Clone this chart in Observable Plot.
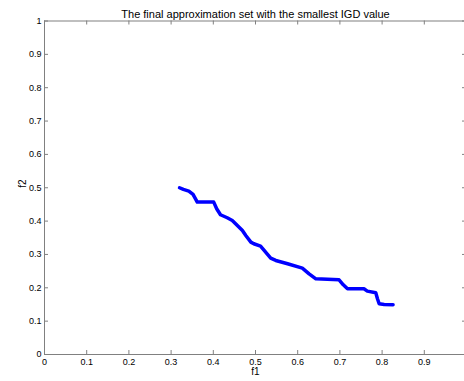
<!DOCTYPE html>
<html><head><meta charset="utf-8">
<script src="https://cdn.jsdelivr.net/npm/d3@7"></script>
<script src="https://cdn.jsdelivr.net/npm/@observablehq/plot@0.6"></script>
<style>html,body{margin:0;padding:0;background:#fff;overflow:hidden;width:464px;height:381px}</style>
</head><body><div id="chart"></div><script>
const titleText = "The final approximation set with the smallest IGD value";
const xLabel = "f1";
const yLabel = "f2";
const xTicks = [0, 0.1, 0.2, 0.3, 0.4, 0.5, 0.6, 0.7, 0.8, 0.9, 1];
const yTicks = [0, 0.1, 0.2, 0.3, 0.4, 0.5, 0.6, 0.7, 0.8, 0.9, 1];
const f1 = [0.320, 0.329, 0.342, 0.352, 0.362, 0.401, 0.408, 0.417, 0.433, 0.445, 0.457, 0.469, 0.477, 0.489, 0.496, 0.512, 0.524, 0.536, 0.548, 0.576, 0.611, 0.627, 0.643, 0.698, 0.708, 0.718, 0.757, 0.765, 0.785, 0.789, 0.793, 0.805, 0.826];
const f2 = [0.500, 0.495, 0.490, 0.480, 0.457, 0.457, 0.437, 0.419, 0.410, 0.402, 0.387, 0.372, 0.357, 0.337, 0.332, 0.325, 0.307, 0.289, 0.282, 0.272, 0.259, 0.242, 0.227, 0.224, 0.209, 0.197, 0.197, 0.190, 0.185, 0.167, 0.152, 0.150, 0.149];

const W = 466, H = 381, mL = 44, mR = 0, mT = 20.5, mB = 27;
const pw = W - mL - mR, ph = H - mT - mB;
const axisColor = "#808080";
const data = f1.map((x, i) => ({f1: x, f2: f2[i]}));
const fmt = d => String(d);

const chart = Plot.plot({
  width: W, height: H,
  marginLeft: mL, marginRight: mR, marginTop: mT, marginBottom: mB,
  style: {fontFamily: "'Liberation Sans', Arial, sans-serif", fontSize: "9px", background: "#fff", maxWidth: "none", color: "#000"},
  x: {domain: [0, 1]},
  y: {domain: [0, 1]},
  marks: [
    Plot.frame({stroke: axisColor}),
    Plot.ruleX(xTicks, {x: d => d, insetTop: ph - 4, stroke: axisColor}),
    Plot.ruleX(xTicks, {x: d => d, insetBottom: ph - 4, stroke: axisColor}),
    Plot.ruleY(yTicks, {y: d => d, insetRight: pw - 4, stroke: axisColor}),
    Plot.ruleY(yTicks, {y: d => d, insetLeft: pw - 4, stroke: axisColor}),
    Plot.axisX({ticks: xTicks, tickSize: 0, tickPadding: 4, tickFormat: fmt, label: null, fill: "#000"}),
    Plot.axisY({ticks: yTicks, tickSize: 0, tickPadding: 3, tickFormat: fmt, label: null, fill: "#000"}),
    Plot.line(data, {x: "f1", y: "f2", stroke: "#0000ff", strokeWidth: 3.5, strokeLinejoin: "round", strokeLinecap: "round"}),
    Plot.text([titleText], {frameAnchor: "top", dy: -10.5, fontSize: 11, fill: "#000"}),
    Plot.text([xLabel], {frameAnchor: "bottom", dy: 20, fontSize: 10, fill: "#000"}),
    Plot.text([yLabel], {frameAnchor: "left", dx: -22, rotate: -90, fontSize: 10, fill: "#000"})
  ]
});
document.getElementById("chart").appendChild(chart);
</script></body></html>
